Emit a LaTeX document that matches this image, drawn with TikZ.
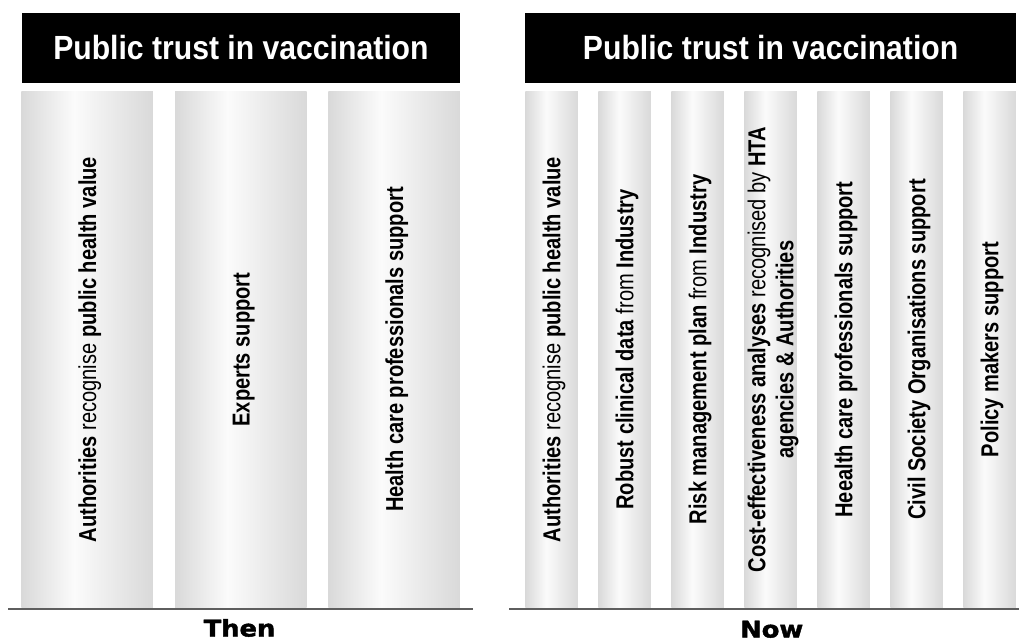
\documentclass[tikz,border=0pt]{standalone}
\usepackage{fontspec}
\setmainfont{Liberation Sans}
\newfontfamily\headfont[FakeStretch=0.9]{Liberation Sans}
\newfontfamily\pillarfont[FakeStretch=0.82]{Liberation Sans}
\newfontfamily\erafont[FakeStretch=1.12,FakeBold=1.8]{DejaVu Sans}

\definecolor{pilgray}{HTML}{D9D9D9}
\definecolor{pillight}{HTML}{FBFBFB}
\definecolor{rulegray}{HTML}{5E5E5E}

% path spans 25bp..75bp of the shading
\pgfdeclarehorizontalshading{pillarshade}{100bp}{color(0bp)=(pilgray); color(25bp)=(pilgray); color(45bp)=(pillight); color(75bp)=(pilgray); color(100bp)=(pilgray)}

\tikzset{
  headbar/.style={fill=black, text=white, inner sep=0pt, minimum height=70,
    font=\headfont\bfseries\fontsize{33.5}{40}\selectfont},
  pillar/.style={shading=pillarshade, inner sep=0pt, minimum height=515.5},
  widepillar/.style={pillar, minimum width=131.5},
  slimpillar/.style={pillar, minimum width=52.5},
  pillartext/.style={rotate=90, anchor=base, inner sep=0pt, align=center,
    font=\pillarfont\fontsize{24.5}{28}\selectfont},
  ground/.style={draw=rulegray, line width=2},
  era/.style={anchor=base, inner sep=0pt, font=\erafont\bfseries\fontsize{23}{28}\selectfont}
}

\begin{document}
\begin{tikzpicture}[x=1pt,y=-1pt]
\useasboundingbox (0,0) rectangle (1019,642);

% then
\node[headbar, minimum width=438.5] (thenhead) at (240.9,48) {Public trust in vaccination};
\node[widepillar] (tp1) at (87.2,349.5) {};
\node[widepillar] (tp2) at (240.9,349.5) {};
\node[widepillar] (tp3) at (394.2,349.5) {};
\node[pillartext] (tl1) at ([xshift=8.8]tp1.center) {\textbf{Authorities} recognise \textbf{public health value}};
\node[pillartext] (tl2) at ([xshift=8.8]tp2.center) {\textbf{Experts support}};
\node[pillartext] (tl3) at ([xshift=8.8]tp3.center) {\textbf{Health care professionals support}};
\draw[ground] (8,609) -- (473,609);
\node[era] (then) at (239.5,636.5) {Then};

% now
\node[headbar, minimum width=491.3] (nowhead) at (770.6,48) {Public trust in vaccination};
\node[slimpillar] (np1) at (551.6,349.5) {};
\node[slimpillar] (np2) at (624.6,349.5) {};
\node[slimpillar] (np3) at (697.6,349.5) {};
\node[slimpillar] (np4) at (770.6,349.5) {};
\node[slimpillar] (np5) at (843.6,349.5) {};
\node[slimpillar] (np6) at (916.6,349.5) {};
\node[slimpillar] (np7) at (989.6,349.5) {};
\node[pillartext] (nl1) at ([xshift=8.8]np1.center) {\textbf{Authorities} recognise \textbf{public health value}};
\node[pillartext] (nl2) at ([xshift=8.8]np2.center) {\textbf{Robust clinical data} from \textbf{Industry}};
\node[pillartext] (nl3) at ([xshift=8.8]np3.center) {\textbf{Risk management plan} from \textbf{Industry}};
\node[pillartext, anchor=center] (nl4) at ([xshift=2.5]np4.center) {\textbf{Cost-effectiveness analyses} recognised by \textbf{HTA}\\\textbf{agencies \& Authorities}};
\node[pillartext] (nl5) at ([xshift=8.8]np5.center) {\textbf{Heealth care professionals support}};
\node[pillartext] (nl6) at ([xshift=8.8]np6.center) {\textbf{Civil Society Organisations support}};
\node[pillartext] (nl7) at ([xshift=8.8]np7.center) {\textbf{Policy makers support}};
\draw[ground] (509,609) -- (1019,609);
\node[era] (now) at (771.7,637.5) {Now};
\end{tikzpicture}
\end{document}
